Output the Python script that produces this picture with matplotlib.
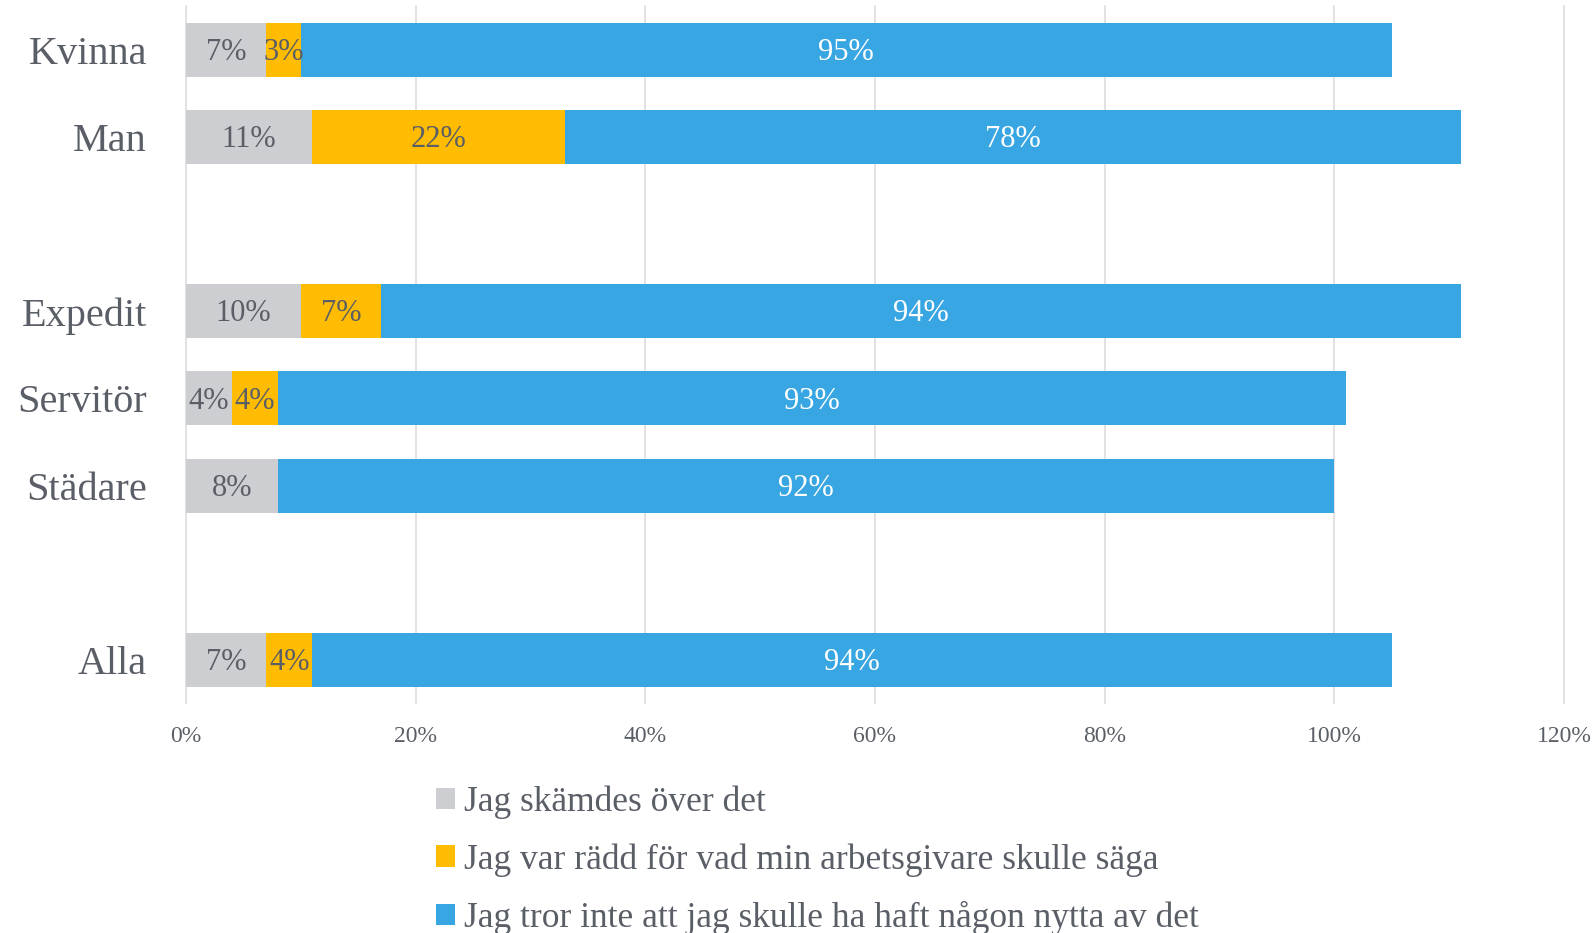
import matplotlib.pyplot as plt
from matplotlib.patches import Patch
import numpy as np

plt.rcParams['font.family'] = ['Liberation Serif', 'DejaVu Serif']

# tomma rader ger luckorna mellan grupperna
kategorier = ["Kvinna", "Man", "", "Expedit", "Servitör", "Städare", "", "Alla"]
skamdes = [7, 11, 0, 10, 4, 8, 0, 7]
radd = [3, 22, 0, 7, 4, 0, 0, 4]
ingen_nytta = [95, 78, 0, 94, 93, 92, 0, 94]

serienamn = ["Jag skämdes över det",
             "Jag var rädd för vad min arbetsgivare skulle säga",
             "Jag tror inte att jag skulle ha haft någon nytta av det"]
farger = ["#CDCED2", "#FFBC00", "#37A6E2"]
textfarg = ["#5A5E66", "#5A5E66", "white"]
xticks = [0, 20, 40, 60, 80, 100, 120]

textgra = "#5A5E66"

fig = plt.figure(figsize=(15.96, 9.33), dpi=100)
ax = fig.add_axes([0.1165, 0.2462, 0.8634, 0.7469])

y = np.arange(len(kategorier))
vanster = np.zeros(len(kategorier))
for vals, farg, tf in zip([skamdes, radd, ingen_nytta], farger, textfarg):
    vals = np.array(vals, dtype=float)
    synlig = vals > 0
    ax.barh(y[synlig], vals[synlig], left=vanster[synlig], height=0.62,
            color=farg, linewidth=0, zorder=3)
    for yi, v, l in zip(y[synlig], vals[synlig], vanster[synlig]):
        ax.text(l + v / 2, yi + 0.03, f"{v:.0f}%", ha="center", va="center",
                fontsize=22, color=tf, zorder=4)
    vanster += vals

ax.set_ylim(len(kategorier) - 0.5, -0.5)
ax.set_xlim(0, 120)
ax.set_yticks(y)
ax.set_yticklabels(kategorier, fontsize=29, color=textgra)
ax.set_xticks(xticks)
ax.set_xticklabels([f"{t}%" for t in xticks], fontsize=17, color=textgra)
ax.tick_params(axis="y", length=0, pad=28)
ax.tick_params(axis="x", length=0, pad=16)
ax.grid(axis="x", color="#E2E2E2", linewidth=1.4, zorder=0)
for linje in ax.get_xgridlines():
    linje.set_clip_on(False)
for s in ax.spines.values():
    s.set_visible(False)

handtag = [Patch(facecolor=f, edgecolor="none") for f in farger]
fig.legend(handtag, serienamn, loc="upper left", bbox_to_anchor=(0.273, 0.158),
           frameon=False, fontsize=25.5, handlelength=0.55, handleheight=0.55,
           handletextpad=0.25, labelspacing=0.68, borderpad=0, borderaxespad=0,
           labelcolor=textgra)

fig.savefig("out.png", dpi=100)
